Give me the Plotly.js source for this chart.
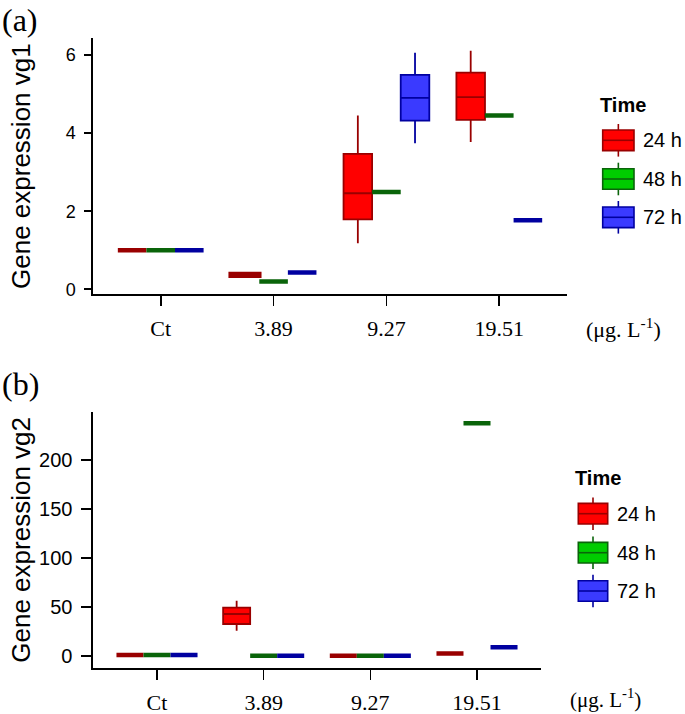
<!DOCTYPE html>
<html><head><meta charset="utf-8">
<script src="https://cdn.plot.ly/plotly-3.0.1.min.js"></script>
<style>html,body{margin:0;padding:0;background:#fff}</style>
</head><body>
<div id="chart" style="width:685px;height:714px"></div>
<script>
// ---- data ----
const categories = ['Ct', '3.89', '9.27', '19.51'];
const timeLabels = ['24 h', '48 h', '72 h'];
const yTicksA = [0, 2, 4, 6];
const yTicksB = [0, 50, 100, 150, 200];
// five-number summaries per category: [lower whisker, q1, median, q3, upper whisker]
const vg1_24h = [[1, 1, 1, 1, 1], [0.35, 0.35, 0.37, 0.39, 0.39], [1.18, 1.79, 2.46, 3.47, 4.45], [3.77, 4.34, 4.92, 5.55, 6.11]];
const vg1_48h = [[1, 1, 1, 1, 1], [0.2, 0.2, 0.2, 0.2, 0.2], [2.49, 2.49, 2.49, 2.49, 2.49], [4.45, 4.45, 4.45, 4.45, 4.45]];
const vg1_72h = [[1, 1, 1, 1, 1], [0.43, 0.43, 0.43, 0.43, 0.43], [3.74, 4.32, 4.90, 5.49, 6.06], [1.77, 1.77, 1.77, 1.77, 1.77]];
const vg2_24h = [[1, 1, 1, 1, 1], [25.8, 32.7, 42.9, 49.3, 56.4], [0.3, 0.3, 0.3, 0.3, 0.3], [2.7, 2.7, 2.7, 2.7, 2.7]];
const vg2_48h = [[1, 1, 1, 1, 1], [0.2, 0.2, 0.2, 0.2, 0.2], [0.3, 0.3, 0.3, 0.3, 0.3], [237.4, 237.4, 237.4, 237.4, 237.4]];
const vg2_72h = [[1, 1, 1, 1, 1], [0.2, 0.2, 0.2, 0.2, 0.2], [0.3, 0.3, 0.3, 0.3, 0.3], [8.9, 8.9, 8.9, 8.9, 8.9]];

// ---- styles ----
const fills = ['#FF0000', '#00CC00', '#3A3AFF'];
const lines = ['#990000', '#0A640A', '#0000A0'];
const SANS = 'Liberation Sans, Arial, sans-serif';
const SERIF = 'Liberation Serif, Times New Roman, serif';

// page geometry (px) -> plot-area paper coords
const W = 685, H = 714, ML = 93, MR = 118, MT = 38, MB = 46;
const PW = W - ML - MR, PH = H - MT - MB;
const px = v => (v - ML) / PW;
const py = v => (H - MB - v) / PH;

function buildTraces(series, xa, ya, group, flatTol) {
  const out = [];
  series.forEach((s, k) => {
    const parts = {box: [], flat: []};
    s.forEach((st, i) => {
      (st[4] - st[0] > flatTol ? parts.box : parts.flat).push(i);
    });
    ['box', 'flat'].forEach(kind => {
      const idx = parts[kind];
      if (!idx.length) return;
      out.push({
        type: 'box', xaxis: xa, yaxis: ya,
        x: idx.map(i => categories[i]),
        lowerfence: idx.map(i => s[i][0]),
        q1: idx.map(i => s[i][1]),
        median: idx.map(i => s[i][2]),
        q3: idx.map(i => s[i][3]),
        upperfence: idx.map(i => s[i][4]),
        name: timeLabels[k],
        offsetgroup: timeLabels[k], alignmentgroup: group,
        fillcolor: fills[k],
        line: {color: lines[k], width: kind === 'box' ? 1.8 : 4.5},
        whiskerwidth: 0, boxpoints: false,
        showlegend: false, hoverinfo: 'skip'
      });
    });
  });
  return out;
}

const data = [].concat(
  buildTraces([vg1_24h, vg1_48h, vg1_72h], 'x', 'y', 'a', 0.13),
  buildTraces([vg2_24h, vg2_48h, vg2_72h], 'x2', 'y2', 'b', 5)
);

// ---- custom legends ----
const shapes = [], annotations = [];
function legend(x0, x1, centers, titleX, titleY, labelX) {
  annotations.push({xref: 'paper', yref: 'paper', x: px(titleX), y: py(titleY), xanchor: 'left', yanchor: 'middle',
    text: '<b>Time</b>', showarrow: false, font: {family: SANS, size: 20, color: '#000'}});
  const cx = (x0 + x1) / 2;
  centers.forEach((cy, k) => {
    const ln = {color: lines[k], width: 1.6};
    shapes.push({type: 'line', xref: 'paper', yref: 'paper', x0: px(cx), x1: px(cx), y0: py(cy - 16.3), y1: py(cy + 16.3), line: ln});
    shapes.push({type: 'rect', xref: 'paper', yref: 'paper', x0: px(x0), x1: px(x1), y0: py(cy - 10.3), y1: py(cy + 10.3), fillcolor: fills[k], line: ln});
    shapes.push({type: 'line', xref: 'paper', yref: 'paper', x0: px(x0), x1: px(x1), y0: py(cy), y1: py(cy), line: ln});
    annotations.push({xref: 'paper', yref: 'paper', x: px(labelX), y: py(cy), xanchor: 'left', yanchor: 'middle',
      text: timeLabels[k], showarrow: false, font: {family: SANS, size: 20, color: '#000'}});
  });
}
legend(602.7, 634, [140.3, 179, 217.3], 598, 105, 641);
legend(578.3, 607.7, [513.7, 552.7, 591], 573, 478.3, 615);

// panel tags and units
annotations.push({xref: 'paper', yref: 'paper', x: px(0), y: py(0), xanchor: 'left', yanchor: 'top', text: '(a)', showarrow: false, font: {family: SERIF, size: 32, color: '#000'}});
annotations.push({xref: 'paper', yref: 'paper', x: px(0), y: py(364), xanchor: 'left', yanchor: 'top', text: '(b)', showarrow: false, font: {family: SERIF, size: 32, color: '#000'}});
annotations.push({xref: 'paper', yref: 'paper', x: px(623), y: py(328), xanchor: 'center', yanchor: 'middle', text: '(μg. L<sup>-1</sup>)', showarrow: false, font: {family: SERIF, size: 22, color: '#000'}});
annotations.push({xref: 'paper', yref: 'paper', x: px(605), y: py(714), xanchor: 'center', yanchor: 'bottom', text: '(μg. L<sup>-1</sup>)', showarrow: false, font: {family: SERIF, size: 21, color: '#000'}});

const xBase = {
  type: 'category', categoryorder: 'array', categoryarray: categories,
  range: [-0.6, 3.6], showgrid: false, zeroline: false,
  showline: true, linecolor: '#000', linewidth: 1.6,
  ticks: 'outside', ticklen: 10, tickwidth: 1.6, tickcolor: '#000',
  tickfont: {family: SERIF, size: 22, color: '#000'}, ticklabelstandoff: 4, fixedrange: true
};
const yBase = {
  showgrid: false, zeroline: false, showline: true, linecolor: '#000', linewidth: 1.6,
  ticks: 'outside', tickwidth: 1.6, tickcolor: '#000', fixedrange: true
};

const layout = {
  width: W, height: H, margin: {l: ML, r: MR, t: MT, b: MB},
  paper_bgcolor: '#fff', plot_bgcolor: '#fff',
  showlegend: false, boxmode: 'group', boxgap: 0.24, boxgroupgap: 0,
  xaxis: Object.assign({}, xBase, {domain: [0, 1], anchor: 'y'}),
  yaxis: Object.assign({}, yBase, {domain: [py(294.3), 1], anchor: 'x', range: [-0.128, 6.435],
    tickvals: yTicksA, ticktext: yTicksA.map(String), ticklen: 7, ticklabelstandoff: 5,
    tickfont: {family: SANS, size: 18, color: '#000'},
    title: {text: 'Gene expression vg1', font: {family: SANS, size: 26, color: '#000'}}}),
  xaxis2: Object.assign({}, xBase, {domain: [0, px(541)], anchor: 'y2'}),
  yaxis2: Object.assign({}, yBase, {domain: [0, py(411.7)], anchor: 'x2', range: [-12.2, 249.3],
    tickvals: yTicksB, ticktext: yTicksB.map(String), ticklen: 10, ticklabelstandoff: 5,
    tickfont: {family: SANS, size: 20, color: '#000'},
    title: {text: 'Gene expression vg2', font: {family: SANS, size: 26, color: '#000'}}}),
  shapes: shapes, annotations: annotations
};

Plotly.newPlot('chart', data, layout, {displayModeBar: false, staticPlot: true});
</script>
</body></html>
